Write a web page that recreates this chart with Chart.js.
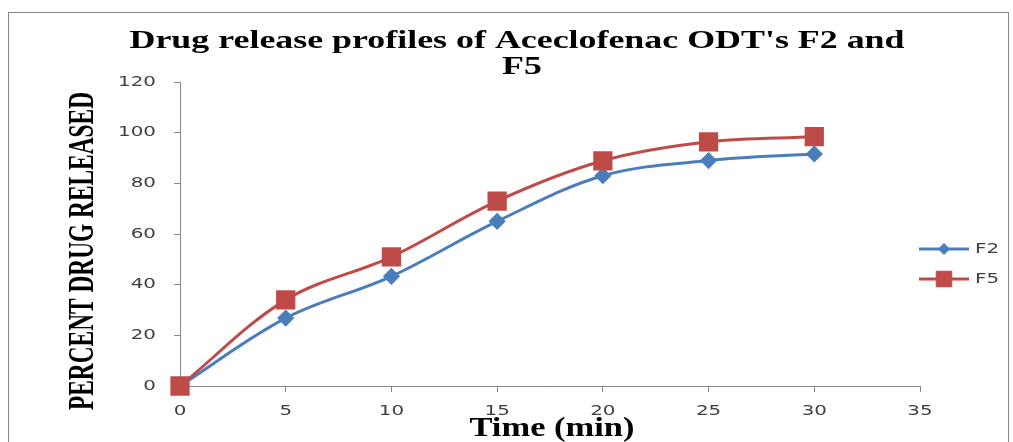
<!DOCTYPE html>
<html>
<head>
<meta charset="utf-8">
<script src="https://cdn.jsdelivr.net/npm/chart.js@4"></script>
<style>
html, body { margin: 0; padding: 0; background: #fff; }
#wrap { width: 1013px; height: 442px; }
</style>
</head>
<body>
<div id="wrap"><canvas id="releaseChart" width="1013" height="442"></canvas></div>
<script>
const timePoints = [0, 5, 10, 15, 20, 25, 30];
const f2Values = [0, 26.8, 43.3, 65.0, 83.0, 89.0, 91.6];
const f5Values = [0, 34.0, 51.0, 73.0, 88.9, 96.4, 98.4];
const seriesNames = ['F2', 'F5'];
const seriesColors = ['#4A7EBB', '#BE4B48'];
const chartTitle = ["Drug release profiles of Aceclofenac ODT's F2 and", 'F5'];
const xTitle = 'Time (min)';
const yTitle = 'PERCENT DRUG RELEASED';

const axisGray = '#868686';
const labelGray = '#404040';
// the source picture is stretched sideways, so the text is too
const textStretch = 1.42;

function toPoints(values) {
    return timePoints.map((t, i) => ({ x: t, y: values[i] }));
}

function drawStretched(ctx, text, x, y, font, sx, align, color) {
    ctx.save();
    ctx.font = font;
    ctx.fillStyle = color;
    ctx.textAlign = align;
    ctx.textBaseline = 'middle';
    ctx.translate(x, y);
    ctx.scale(sx, 1);
    ctx.fillText(text, 0, 0);
    ctx.restore();
}

// outer frame round the whole chart
const framePlugin = {
    id: 'frame',
    beforeDraw(chart) {
        const ctx = chart.ctx;
        ctx.save();
        ctx.strokeStyle = axisGray;
        ctx.lineWidth = 1;
        ctx.strokeRect(8.5, 12.5, 1000, 440);
        ctx.restore();
    }
};

// titles and tick labels, drawn wide like the original
const textPlugin = {
    id: 'wideText',
    afterDraw(chart) {
        const ctx = chart.ctx;

        // chart title
        ctx.save();
        ctx.font = 'bold 26px "Liberation Serif"';
        const titleSx = 775 / ctx.measureText(chartTitle[0]).width;
        ctx.restore();
        drawStretched(ctx, chartTitle[0], 517, 41, 'bold 26px "Liberation Serif"', titleSx, 'center', '#000');
        drawStretched(ctx, chartTitle[1], 522, 67, 'bold 26px "Liberation Serif"', titleSx, 'center', '#000');

        // x title
        ctx.save();
        ctx.font = 'bold 27px "Liberation Serif"';
        const xSx = 165 / ctx.measureText(xTitle).width;
        ctx.restore();
        drawStretched(ctx, xTitle, 552, 429, 'bold 27px "Liberation Serif"', xSx, 'center', '#000');

        // y title, tall and squeezed
        ctx.save();
        ctx.font = 'bold 36px "Liberation Serif"';
        ctx.fillStyle = '#000';
        ctx.textAlign = 'center';
        ctx.textBaseline = 'alphabetic';
        const w = ctx.measureText(yTitle).width;
        ctx.translate(93, 251);
        ctx.rotate(-Math.PI / 2);
        ctx.scale(318 / w, 1);
        ctx.fillText(yTitle, 0, 0);
        ctx.restore();

        // tick labels from the scales
        const tickFont = '14px "DejaVu Sans"';
        const xs = chart.scales.x;
        xs.ticks.forEach(t => {
            drawStretched(ctx, t.label, xs.getPixelForValue(t.value), 411, tickFont, textStretch, 'center', labelGray);
        });
        const ys = chart.scales.y;
        ys.ticks.forEach(t => {
            drawStretched(ctx, t.label, 156, ys.getPixelForValue(t.value), tickFont, textStretch, 'right', labelGray);
        });
    }
};

// legend with line + marker, as in the source
const lineLegendPlugin = {
    id: 'lineLegend',
    afterDraw(chart) {
        const ctx = chart.ctx;
        const rowY = [249, 279];
        chart.data.datasets.forEach((ds, i) => {
            const y = rowY[i];
            ctx.save();
            ctx.strokeStyle = ds.borderColor;
            ctx.fillStyle = ds.backgroundColor;
            ctx.lineWidth = 3;
            ctx.beginPath();
            ctx.moveTo(919, y);
            ctx.lineTo(969, y);
            ctx.stroke();
            ctx.lineWidth = 1;
            Chart.helpers.drawPoint(ctx, {
                pointStyle: ds.pointStyle,
                radius: ds.legendRadius,
                borderWidth: 1,
                rotation: 0
            }, 944, y);
            ctx.restore();
            drawStretched(ctx, ds.label, 975, y, '14px "DejaVu Sans"', textStretch, 'left', labelGray);
        });
    }
};

const ctx = document.getElementById('releaseChart').getContext('2d');
new Chart(ctx, {
    type: 'line',
    data: {
        datasets: [
            {
                label: seriesNames[0],
                data: toPoints(f2Values),
                borderColor: seriesColors[0],
                backgroundColor: seriesColors[0],
                borderWidth: 3,
                pointStyle: 'rectRot',
                pointRadius: 6.5,
                legendRadius: 5.5,
                tension: 0.35,
                clip: false,
                order: 1
            },
            {
                label: seriesNames[1],
                data: toPoints(f5Values),
                borderColor: seriesColors[1],
                backgroundColor: seriesColors[1],
                borderWidth: 3,
                pointStyle: 'rect',
                pointRadius: 11.5,
                legendRadius: 11,
                tension: 0.35,
                clip: false,
                order: 0
            }
        ]
    },
    options: {
        responsive: false,
        animation: false,
        layout: { padding: { left: 110, right: 93, top: 82, bottom: 0 } },
        plugins: {
            legend: { display: false },
            tooltip: { enabled: false },
            title: { display: false }
        },
        scales: {
            x: {
                type: 'linear',
                min: 0,
                max: 35,
                ticks: { stepSize: 5, display: false },
                grid: { drawOnChartArea: false, drawTicks: true, tickLength: 6, color: axisGray },
                border: { color: axisGray },
                afterFit(scale) { scale.height = 56; }
            },
            y: {
                min: 0,
                max: 120,
                ticks: { stepSize: 20, display: false },
                grid: { drawOnChartArea: false, drawTicks: true, tickLength: 6, color: axisGray },
                border: { color: axisGray },
                afterFit(scale) { scale.width = 70; }
            }
        }
    },
    plugins: [framePlugin, textPlugin, lineLegendPlugin]
});
</script>
</body>
</html>
